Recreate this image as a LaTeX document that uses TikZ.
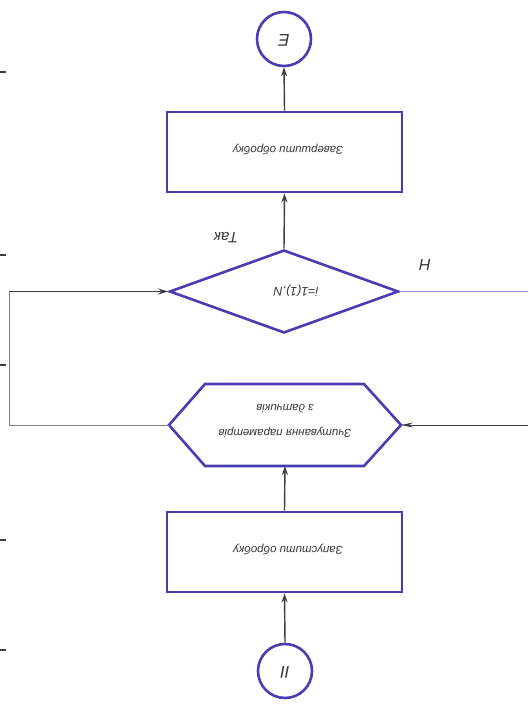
\documentclass[tikz,border=0pt]{standalone}
\usepackage{fontspec}
\setmainfont{Liberation Sans}
\usetikzlibrary{arrows.meta,shapes.geometric}
\definecolor{frame}{HTML}{4A3DB4}
\definecolor{wire}{HTML}{3E3E48}
\definecolor{thinwire}{HTML}{80808E}
\definecolor{ink}{HTML}{38383F}
\begin{document}
\begin{tikzpicture}[x=1pt,y=-1pt,
  blockbox/.style={draw=frame,line width=2.8pt,minimum width=235pt,minimum height=80pt,inner sep=0pt},
  decision/.style={draw=frame,line width=2.6pt,diamond,minimum width=229pt,minimum height=83pt,inner sep=0pt},
  hexline/.style={draw=frame,line width=2.6pt,line join=miter},
  connector/.style={draw=frame,line width=2.6pt,circle,minimum size=54pt,inner sep=0pt},
  conn/.style={draw=wire,line width=1.4pt},
  arr/.style={conn,-{Stealth[length=9pt,width=6pt]}},
  loopline/.style={draw=thinwire,line width=1pt},
  caption/.style={font=\itshape\fontsize{11.5}{25}\selectfont,text=ink,rotate=180,align=center},
  bigcap/.style={caption,font=\itshape\fontsize{17}{20}\selectfont},
  tick/.style={draw=wire,line width=1.3pt}]
  % page and its size
  \fill[white] (0,0) rectangle (528,711);
  \useasboundingbox (0,0) rectangle (528,711);

  % marks on the left edge
  \foreach \yy in {72,255,365,540,650} \draw[tick] (0,\yy) -- (6,\yy);

  % connectors (off-page references)
  \node[connector] (conE) at (284,39) {};
  \node[bigcap] (conEtext) at (284,40) {Е};
  \node[connector] (conII) at (285,671) {};
  \node[bigcap] (conIItext) at (285,672) {II};

  % process blocks
  \node[blockbox] (finish) at (284.5,152) {};
  \node[caption] (finishtext) at (288,150) {Завершити обробку};
  \node[blockbox] (start) at (284.5,552) {};
  \node[caption] (starttext) at (288,550) {Запустити обробку};

  % loop condition
  \node[decision] (check) at (284,291.5) {};
  \node[caption,font=\itshape\fontsize{12.5}{15}\selectfont] (checktext) at (296,291) {i=1(1),N};
  \node[bigcap,font=\itshape\fontsize{15}{18}\selectfont] (yes) at (226,238) {Так};
  \node[bigcap,font=\itshape\fontsize{16}{18}\selectfont] (no) at (425,265) {Н};

  % reading block (hexagon)
  \coordinate (hexW) at (169,425);
  \coordinate (hexE) at (401,425);
  \coordinate (hexN) at (285,384);
  \coordinate (hexS) at (285,466);
  \draw[hexline] (hexW) -- (205,384) -- (364,384) -- (hexE) -- (364,466) -- (205,466) -- cycle;
  \node[caption] (readtext) at (285,421) {Зчитування параметрів\\з датчиків};

  % free ends of the side lines
  \coordinate (leftTop) at (9,291.5);
  \coordinate (leftBot) at (9,425);
  \coordinate (rightTop) at (528,291.5);
  \coordinate (rightBot) at (528,425);

  % main flow
  \draw[arr] (conII.north) -- (start.south);
  \draw[arr] (start.north) -- (hexS);
  \draw[arr] (check.north) -- (finish.south);
  \draw[arr] (finish.north) -- (conE.south);

  % loop lines
  \draw[loopline] (hexW) -- (leftBot) -- (leftTop);
  \draw[loopline,draw=wire,-{Stealth[length=10pt,width=6pt]}] (leftTop) -- (check.west);
  \draw[loopline,draw=frame!55] (check.east) -- (rightTop);
  \draw[loopline,draw=wire,-{Stealth[length=12pt,width=5pt]}] (rightBot) -- (hexE);
\end{tikzpicture}
\end{document}
